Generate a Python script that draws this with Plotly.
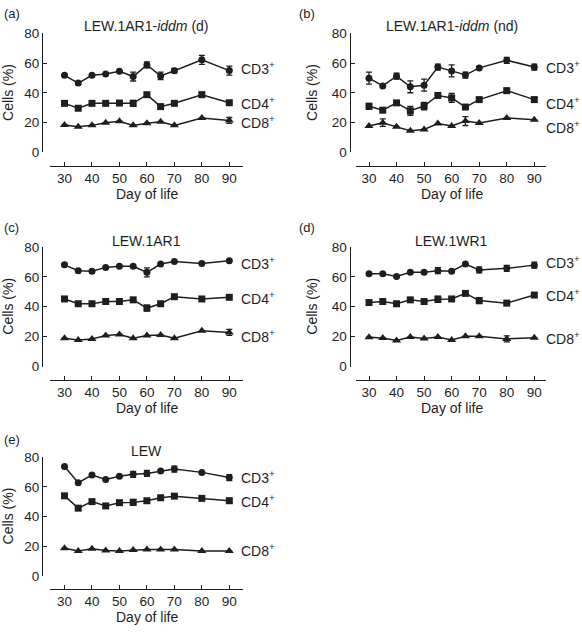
import plotly.graph_objects as go

days = [30, 35, 40, 45, 50, 55, 60, 65, 70, 80, 90]
x_ticks = [30, 40, 50, 60, 70, 80, 90]
y_ticks = [0, 20, 40, 60, 80]
series_names = ["CD3<sup>+</sup>", "CD4<sup>+</sup>", "CD8<sup>+</sup>"]

panel_letters = ["(a)", "(b)", "(c)", "(d)", "(e)"]
panel_titles = ["LEW.1AR1-<i>iddm</i> (d)", "LEW.1AR1-<i>iddm</i> (nd)", "LEW.1AR1", "LEW.1WR1", "LEW"]

# (a) LEW.1AR1-iddm (d)
a_cd3 = [51.8, 46.6, 51.8, 52.7, 54.6, 51.0, 58.8, 51.4, 54.9, 62.2, 55.0]
a_cd3_err = [0, 1, 0, 0, 0, 3, 2, 2.5, 1.5, 3, 3]
a_cd4 = [33.0, 29.7, 33.0, 33.0, 33.2, 33.0, 38.8, 30.8, 33.0, 38.8, 33.4]
a_cd4_err = [0, 0, 0, 0, 0, 2, 1, 1.5, 0, 1.5, 0]
a_cd8 = [18.4, 17.3, 18.2, 20.0, 21.0, 18.2, 19.7, 20.6, 18.2, 23.2, 21.5]
a_cd8_err = [0, 0, 0, 0, 0, 0, 0, 0, 0, 0, 2]
a_label_y = [56.5, 33.0, 20.8]

# (b) LEW.1AR1-iddm (nd)
b_cd3 = [49.9, 44.7, 51.2, 44.1, 45.2, 57.4, 54.8, 52.0, 56.8, 61.9, 57.4]
b_cd3_err = [4, 0, 2, 4, 4, 2, 4, 2, 1, 2, 2]
b_cd4 = [31.0, 28.4, 33.3, 28.0, 31.2, 38.3, 36.6, 30.5, 35.5, 41.5, 35.5]
b_cd4_err = [2, 0, 0, 3, 2.5, 0, 3, 0, 0, 1.5, 1.5]
b_cd8 = [17.8, 20.0, 17.2, 14.6, 15.5, 19.4, 17.8, 21.1, 19.8, 23.2, 21.9]
b_cd8_err = [0, 2.5, 0, 0, 0, 0, 0, 3, 0, 0, 0]
b_label_y = [57.4, 32.9, 16.8]

# (c) LEW.1AR1
c_cd3 = [68.0, 64.1, 63.7, 66.3, 67.0, 67.0, 63.0, 68.5, 70.2, 68.9, 70.7]
c_cd3_err = [1, 0, 0, 0, 0, 0, 3, 0, 0, 0, 0]
c_cd4 = [45.2, 42.0, 42.0, 43.5, 43.5, 44.6, 39.1, 42.0, 46.7, 45.2, 46.3]
c_cd4_err = [0, 0, 0, 0, 0, 0, 2, 0, 0, 0, 0]
c_cd8 = [18.9, 17.8, 18.5, 20.7, 21.5, 18.9, 20.7, 21.1, 18.9, 23.9, 22.8]
c_cd8_err = [0, 0, 0, 0, 0, 0, 0, 0, 0, 0, 2]
c_label_y = [69.5, 45.8, 20.6]

# (d) LEW.1WR1
d_cd3 = [62.0, 62.0, 60.2, 63.0, 63.0, 64.1, 63.7, 68.5, 64.6, 65.7, 67.8]
d_cd3_err = [0, 0, 0, 0, 0, 2, 0, 0, 2, 2, 2]
d_cd4 = [42.8, 43.5, 42.0, 44.6, 43.5, 45.0, 45.2, 48.9, 44.1, 42.4, 47.8]
d_cd4_err = [0, 0, 0, 0, 0, 2, 0, 0, 2, 0, 1.5]
d_cd8 = [19.6, 19.1, 17.4, 19.8, 18.7, 19.8, 17.8, 20.2, 20.2, 18.5, 19.3]
d_cd8_err = [0, 0, 0, 0, 0, 0, 0, 0, 0, 2, 0]
d_label_y = [70.0, 47.7, 19.0]

# (e) LEW
e_cd3 = [73.6, 62.7, 67.9, 64.9, 67.1, 68.4, 69.0, 70.6, 71.9, 69.7, 66.2]
e_cd3_err = [0, 0, 0, 0, 0, 2, 2, 0, 2, 0, 2]
e_cd4 = [53.9, 45.6, 50.0, 47.1, 49.3, 49.5, 50.6, 52.6, 53.7, 52.2, 50.6]
e_cd4_err = [0, 0, 0, 0, 0, 2, 0, 0, 0, 0, 1.5]
e_cd8 = [18.6, 16.7, 18.2, 17.1, 16.7, 17.5, 17.8, 17.8, 17.8, 16.7, 16.7]
e_cd8_err = [0, 0, 0, 0, 0, 0, 0, 0, 0, 0, 0]
e_label_y = [66.7, 50.5, 17.1]

panels_values = [
    ([a_cd3, a_cd4, a_cd8], [a_cd3_err, a_cd4_err, a_cd8_err], a_label_y),
    ([b_cd3, b_cd4, b_cd8], [b_cd3_err, b_cd4_err, b_cd8_err], b_label_y),
    ([c_cd3, c_cd4, c_cd8], [c_cd3_err, c_cd4_err, c_cd8_err], c_label_y),
    ([d_cd3, d_cd4, d_cd8], [d_cd3_err, d_cd4_err, d_cd8_err], d_label_y),
    ([e_cd3, e_cd4, e_cd8], [e_cd3_err, e_cd4_err, e_cd8_err], e_label_y),
]

W, H = 582, 633
FONT = "Liberation Sans, Arial, Helvetica, sans-serif"
INK = "#1e1e1e"
symbols = ["circle", "square", "triangle-up"]
msizes = [7, 7, 8]

# layout geometry in pixels
cols = [
    dict(yaxis_x=42, x0=50, x1=243, x30=64.5, x90=229.3, ytitle_x=8, letter_x=2),
    dict(yaxis_x=349.5, x0=356, x1=546, x30=369, x90=534.3, ytitle_x=312, letter_x=297),
]
rows = [
    dict(y80=27, y0=149, xline=162.5, title_y=19, letter_y=7, xtitle_y=192),
    dict(y80=245.7, y0=368.3, xline=381.7, title_y=240, letter_y=226, xtitle_y=410.5),
    dict(y80=461, y0=582.7, xline=596, title_y=455, letter_y=442.7, xtitle_y=624.5),
]
grid = [(0, 0), (1, 0), (0, 1), (1, 1), (0, 2)]

fig = go.Figure()
layout = dict(
    width=W, height=H, margin=dict(l=0, r=0, t=0, b=0),
    paper_bgcolor="white", plot_bgcolor="white", showlegend=False,
    font=dict(family=FONT, size=14, color=INK),
)
annotations = []

for i, (ci, ri) in enumerate(grid):
    c, r = cols[ci], rows[ri]
    k = "" if i == 0 else str(i + 1)
    scale = (c["x90"] - c["x30"]) / 60.0
    xr = [30 - (c["x30"] - c["x0"]) / scale, 90 + (c["x1"] - c["x90"]) / scale]
    layout["xaxis" + k] = dict(
        domain=[c["x0"] / W, c["x1"] / W], range=xr, anchor="free",
        position=1 - r["xline"] / H, tickvals=x_ticks, ticks="inside", ticklen=4,
        tickwidth=1, tickcolor=INK, showline=True, linecolor=INK, linewidth=1.2,
        showgrid=False, zeroline=False, tickfont=dict(size=13.5, color=INK),
    )
    layout["yaxis" + k] = dict(
        domain=[1 - r["y0"] / H, 1 - r["y80"] / H], range=[0, 80], anchor="free",
        position=c["yaxis_x"] / W, tickvals=y_ticks, ticks="inside", ticklen=4,
        tickwidth=1, tickcolor=INK, showline=True, linecolor=INK, linewidth=1.2,
        showgrid=False, zeroline=False, tickfont=dict(size=13.5, color=INK),
    )
    vals, errs, label_y = panels_values[i]
    for s in range(3):
        fig.add_trace(go.Scatter(
            x=days, y=vals[s], mode="lines+markers",
            xaxis="x" + k, yaxis="y" + k,
            line=dict(color=INK, width=1.5),
            marker=dict(symbol=symbols[s], size=msizes[s], color=INK),
            error_y=dict(type="data", array=errs[s], visible=True,
                         color=INK, thickness=1.3, width=3),
            cliponaxis=False,
        ))
        annotations.append(dict(
            x=90, y=label_y[s], xref="x" + k, yref="y" + k, text=series_names[s],
            xanchor="left", yanchor="middle", xshift=10, showarrow=False,
            font=dict(size=14, color=INK),
        ))
    xc = (c["x30"] + c["x90"]) / 2
    annotations.append(dict(x=xc / W, y=1 - r["title_y"] / H, xref="paper", yref="paper",
                            text=panel_titles[i], showarrow=False, xanchor="center",
                            yanchor="middle", font=dict(size=14, color=INK)))
    annotations.append(dict(x=c["letter_x"] / W, y=1 - r["letter_y"] / H, xref="paper",
                            yref="paper", text=panel_letters[i], showarrow=False,
                            xanchor="left", yanchor="middle", font=dict(size=13, color=INK)))
    annotations.append(dict(x=xc / W, y=1 - r["xtitle_y"] / H, xref="paper", yref="paper",
                            text="Day of life", showarrow=False, xanchor="center",
                            yanchor="middle", font=dict(size=14, color=INK)))
    annotations.append(dict(x=c["ytitle_x"] / W, y=1 - (r["y80"] + r["y0"]) / 2 / H,
                            xref="paper", yref="paper", text="Cells (%)", textangle=-90,
                            showarrow=False, xanchor="center", yanchor="middle",
                            font=dict(size=14, color=INK)))

layout["annotations"] = annotations
fig.update_layout(**layout)
fig.write_html("out.html", config={"displayModeBar": False},
               post_script="document.body.style.margin='0';document.body.style.overflow='hidden';")
